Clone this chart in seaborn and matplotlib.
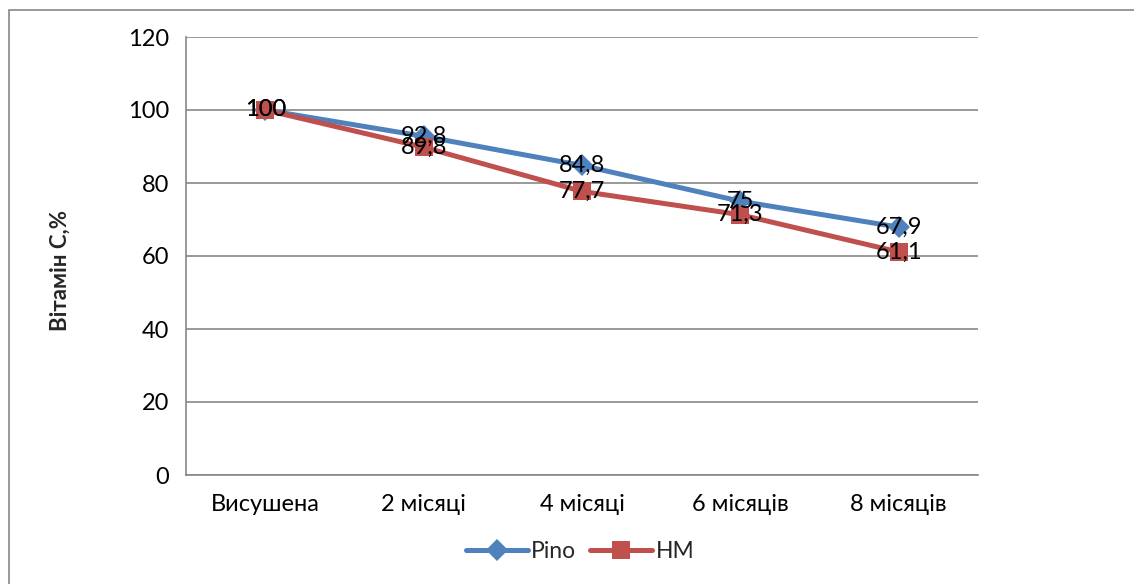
import matplotlib
matplotlib.use("Agg")
import matplotlib.pyplot as plt
import seaborn as sns
import pandas as pd
from matplotlib.patches import Rectangle
from matplotlib.ticker import FixedLocator

categories = ["Висушена", "2 місяці", "4 місяці", "6 місяців", "8 місяців"]
pino = [100, 92.8, 84.8, 75, 67.9]
hm = [100, 89.8, 77.7, 71.3, 61.1]
series_names = ["Pino", "HM"]
y_ticks = [0, 20, 40, 60, 80, 100, 120]
y_label = "Вітамін С,%"

df = pd.DataFrame({
    "cat": categories * 2,
    "val": pino + hm,
    "series": [series_names[0]] * len(pino) + [series_names[1]] * len(hm),
})

sns.set_theme(style="white")
plt.rcParams["font.family"] = ["Lato", "DejaVu Sans"]

W, H = 1134, 584
fig = plt.figure(figsize=(W / 100, H / 100), dpi=100)
ax = fig.add_axes([186 / W, 1 - 475 / H, (978 - 186) / W, (475 - 37) / H])

colors = {"Pino": "#4F81BD", "HM": "#C0504D"}
sns.lineplot(data=df, x="cat", y="val", hue="series", style="series",
             palette=colors, markers={"Pino": "D", "HM": "s"}, dashes=False,
             linewidth=3.6, markersize=12, markeredgewidth=0, ax=ax, sort=False)

for line in ax.get_lines():
    if line.get_marker() == "s":
        line.set_markersize(12.5)
    elif line.get_marker() == "D":
        line.set_markersize(11)

ax.set_xlim(-0.5, len(categories) - 0.5)
ax.set_ylim(0, 120)
ax.set_yticks(y_ticks)
ax.set_xticks(range(len(categories)))
ax.set_xticklabels(categories)
ax.tick_params(axis="both", labelsize=17, colors="#000000", length=0)
ax.tick_params(axis="y", pad=12)
ax.tick_params(axis="x", pad=14)
ax.yaxis.grid(True, color="#878787", linewidth=1.2)
ax.xaxis.grid(False)
for s in ["top", "right"]:
    ax.spines[s].set_visible(False)
for s in ["left", "bottom"]:
    ax.spines[s].set_color("#878787")
    ax.spines[s].set_linewidth(1.2)

ax.xaxis.set_minor_locator(FixedLocator([i - 0.5 for i in range(len(categories) + 1)]))
ax.tick_params(axis="x", which="minor", length=6, width=1.2, color="#878787", direction="out")
ax.yaxis.set_minor_locator(FixedLocator(y_ticks))
ax.tick_params(axis="y", which="minor", length=6, width=1.2, color="#878787", direction="out")

ax.set_xlabel("")
ax.set_ylabel(y_label, fontsize=16, fontweight="bold")
ax.yaxis.set_label_coords(-0.145, 0.468)

def fmt(v):
    return ("%g" % v).replace(".", ",")

for vals in (pino, hm):
    for i, v in enumerate(vals):
        ax.text(i, v, fmt(v), ha="center", va="center", fontsize=17, color="black", zorder=5)

handles, labels = ax.get_legend_handles_labels()
ax.legend(handles, labels, loc="center", bbox_to_anchor=(580 / W, 1 - 552 / H),
          bbox_transform=fig.transFigure, ncol=2, frameon=False, fontsize=16.5,
          handlelength=2.7, columnspacing=0.6, handletextpad=0.15)

fig.patches.append(Rectangle((9 / W, -0.1), 1.2, 1 - 10 / H + 0.1, transform=fig.transFigure,
                             fill=False, edgecolor="#878787", linewidth=1.2))

fig.savefig("out.png", dpi=100, facecolor="white")
